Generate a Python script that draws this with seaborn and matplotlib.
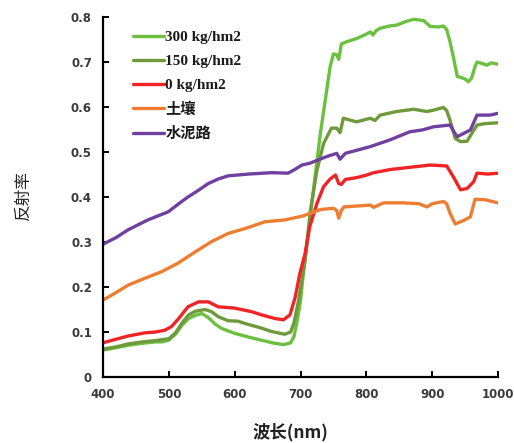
import numpy as np
import pandas as pd
import matplotlib
matplotlib.use("Agg")
import matplotlib.pyplot as plt
import seaborn as sns

# Reflectance spectra (wavelength in nm, reflectance)
wl_300 = [400, 420, 440, 460, 480, 490, 500, 510, 520, 530, 540, 550, 560, 570, 580,
          600, 620, 640, 660, 675, 685, 690, 695, 700, 705, 710, 715, 720, 725, 730,
          735, 740, 745, 750, 755, 758, 762, 770, 785, 800, 806, 810, 815, 821, 835,
          846, 860, 872, 887, 897, 910, 917, 922, 927, 932, 938, 945, 950, 955, 960,
          965, 968, 975, 983, 990, 1000]
r_300 = [0.060, 0.065, 0.071, 0.075, 0.078, 0.078, 0.082, 0.095, 0.115, 0.130, 0.137,
         0.141, 0.132, 0.118, 0.108, 0.097, 0.089, 0.082, 0.075, 0.072, 0.076, 0.090,
         0.125, 0.170, 0.240, 0.300, 0.360, 0.420, 0.480, 0.540, 0.590, 0.640, 0.690,
         0.718, 0.716, 0.706, 0.740, 0.745, 0.752, 0.762, 0.767, 0.760, 0.770, 0.775,
         0.780, 0.782, 0.790, 0.795, 0.792, 0.779, 0.778, 0.780, 0.772, 0.745, 0.712,
         0.668, 0.665, 0.662, 0.656, 0.665, 0.690, 0.700, 0.697, 0.693, 0.698, 0.695]

wl_150 = [400, 420, 440, 460, 480, 500, 510, 520, 530, 540, 555, 565, 575, 590, 605,
          620, 640, 656, 676, 685, 690, 697, 707, 715, 725, 735, 747, 755, 760, 765,
          785, 806, 813, 821, 846, 872, 892, 902, 917, 922, 927, 935, 943, 953, 960,
          968, 980, 1000]
r_150 = [0.062, 0.067, 0.074, 0.078, 0.081, 0.085, 0.098, 0.120, 0.138, 0.146, 0.150,
         0.145, 0.134, 0.125, 0.124, 0.117, 0.109, 0.101, 0.095, 0.100, 0.120, 0.170,
         0.260, 0.370, 0.460, 0.519, 0.553, 0.553, 0.543, 0.575, 0.567, 0.575, 0.570,
         0.582, 0.590, 0.595, 0.590, 0.593, 0.599, 0.592, 0.571, 0.530, 0.523, 0.524,
         0.541, 0.560, 0.563, 0.565]

wl_0 = [400, 420, 438, 463, 480, 494, 504, 515, 529, 545, 560, 575, 600, 626, 641,
        661, 674, 684, 692, 699, 707, 714, 725, 735, 745, 753, 758, 762, 768, 785,
        801, 811, 836, 866, 897, 922, 932, 943, 953, 963, 968, 985, 1000]
r_0 = [0.076, 0.084, 0.091, 0.098, 0.100, 0.104, 0.112, 0.130, 0.156, 0.167, 0.167,
       0.156, 0.153, 0.145, 0.138, 0.130, 0.127, 0.138, 0.178, 0.230, 0.275, 0.334,
       0.386, 0.423, 0.440, 0.449, 0.430, 0.428, 0.439, 0.443, 0.449, 0.454, 0.461,
       0.466, 0.471, 0.469, 0.445, 0.416, 0.419, 0.434, 0.453, 0.451, 0.453]

wl_soil = [400, 418, 438, 463, 489, 514, 540, 565, 590, 616, 646, 676, 704, 730, 750,
           755, 758, 762, 766, 806, 811, 826, 856, 880, 892, 900, 917, 922, 927, 935,
           948, 958, 965, 980, 1000]
r_soil = [0.171, 0.186, 0.204, 0.219, 0.234, 0.253, 0.278, 0.301, 0.319, 0.330, 0.345,
          0.349, 0.358, 0.372, 0.375, 0.370, 0.353, 0.370, 0.378, 0.382, 0.377, 0.387,
          0.387, 0.385, 0.378, 0.385, 0.390, 0.385, 0.364, 0.340, 0.348, 0.356, 0.395,
          0.394, 0.387]

wl_road = [400, 420, 438, 468, 499, 515, 529, 545, 560, 575, 590, 621, 656, 681, 690,
           702, 714, 740, 755, 760, 768, 806, 836, 866, 885, 902, 927, 933, 938, 950,
           958, 968, 988, 1000]
r_road = [0.295, 0.310, 0.327, 0.349, 0.367, 0.385, 0.400, 0.415, 0.430, 0.440, 0.447,
          0.451, 0.454, 0.453, 0.460, 0.471, 0.475, 0.490, 0.497, 0.484, 0.497, 0.512,
          0.527, 0.545, 0.549, 0.556, 0.560, 0.545, 0.534, 0.543, 0.549, 0.582, 0.582,
          0.586]

labels = ["300 kg/hm2", "150 kg/hm2", "0 kg/hm2", "土壤", "水泥路"]
colors = ["#6cc040", "#6f9a3c", "#f02424", "#ed7d31", "#7040a0"]
series = [(wl_300, r_300), (wl_150, r_150), (wl_0, r_0), (wl_soil, r_soil), (wl_road, r_road)]

x_ticks = [400, 500, 600, 700, 800, 900, 1000]
y_ticks = [0, 0.1, 0.2, 0.3, 0.4, 0.5, 0.6, 0.7, 0.8]
y_tick_labels = ["0", "0.1", "0.2", "0.3", "0.4", "0.5", "0.6", "0.7", "0.8"]

sns.set_theme(style="white")
plt.rcParams["font.family"] = ["DejaVu Sans", "Noto Sans CJK SC"]

fig = plt.figure(figsize=(5.14, 4.43), dpi=100)
ax = fig.add_axes([0.2004, 0.149, 0.7686, 0.8126])

for (wl, r), lab, col in zip(series, labels, colors):
    df = pd.DataFrame({"wavelength": wl, "reflectance": r})
    sns.lineplot(data=df, x="wavelength", y="reflectance", ax=ax, color=col,
                 linewidth=2.4, label=lab, estimator=None, sort=True)

ax.set_xlim(400, 1000)
ax.set_ylim(0, 0.8)
ax.set_xticks(x_ticks)
ax.set_xticklabels([str(t) for t in x_ticks])
ax.set_yticks(y_ticks)
ax.set_yticklabels(y_tick_labels)

for s in ["top", "right"]:
    ax.spines[s].set_visible(False)
for s in ["left", "bottom"]:
    ax.spines[s].set_color("black")
    ax.spines[s].set_linewidth(1.6)

ax.tick_params(axis="both", direction="in", length=4, width=1.4, color="black",
               labelsize=8.5, labelcolor="#3a3a3a", pad=8, left=True, bottom=True)
for lbl in ax.get_xticklabels() + ax.get_yticklabels():
    lbl.set_fontweight("bold")

ax.set_xlabel("")
ax.set_ylabel("")
fig.text(0.565, 0.025, "波长(nm)", ha="center", va="center", fontsize=12.5,
         fontweight="bold", family=["Noto Sans CJK SC", "DejaVu Sans"], color="#222222")
fig.text(0.045, 0.557, "反射率", ha="center", va="center", rotation=90, fontsize=12,
         family=["Noto Sans CJK SC"], color="#222222")

leg = ax.legend(loc="upper left", bbox_to_anchor=(0.041, 1.0), frameon=False,
                handlelength=2.0, handletextpad=0.12, labelspacing=0.66,
                prop={"family": ["Liberation Serif", "Noto Sans CJK SC"],
                      "weight": "bold", "size": 11})
for t in leg.get_texts():
    t.set_color("#1a1a1a")

fig.savefig("out.png", dpi=100)
